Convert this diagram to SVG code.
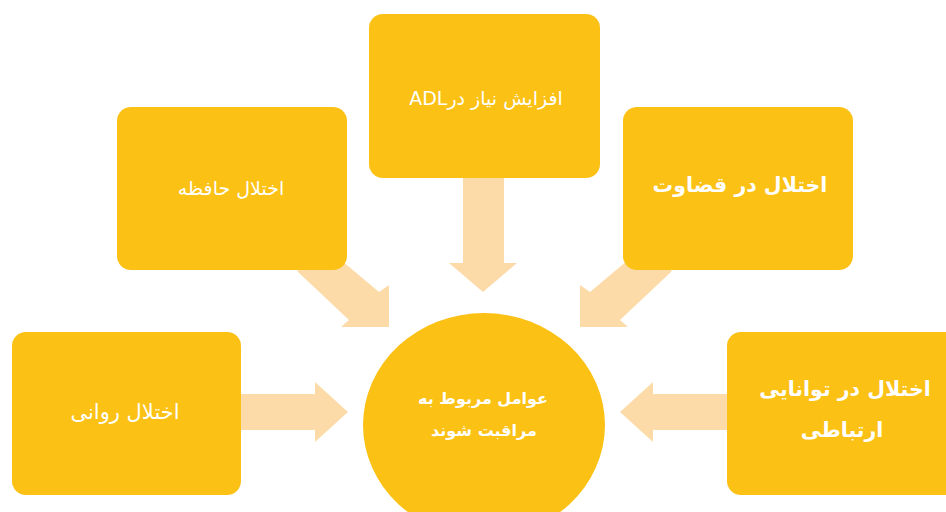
<svg xmlns="http://www.w3.org/2000/svg" width="946" height="512" viewBox="0 0 946 512">
<style>
.box{fill:#FBC115;}
.arr{fill:#FDDBA9;}
.t{fill:#FFFFFF;font-family:"DejaVu Sans","Noto Sans",sans-serif;text-anchor:middle;direction:rtl;}
.n{font-size:19px;font-weight:normal;}
.b{font-size:20.5px;font-weight:bold;}
.c{font-size:16px;font-weight:bold;}
</style>
<rect width="946" height="512" fill="#FFFFFF"/>
<g id="connectors">
<polygon class="arr" points="329,250 379,292 389,285 389,327 341,327 349,320 297,271"/>
<polygon class="arr" points="463,170 504,170 504,263 517,263 483,292 449,263 463,263"/>
<polygon class="arr" points="640,250 590,292 580,285 580,327 628,327 620,320 672,271"/>
<polygon class="arr" points="230,394 315,394 315,382 348,412 315,442 315,430 230,430"/>
<polygon class="arr" points="740,394 653,394 653,382 620,412 653,442 653,430 740,430"/>
</g>
<g id="node-adl">
<rect class="box" x="369" y="14" width="231" height="164" rx="14"/>
<text class="t n" x="486" y="105">افزایش نیاز درADL</text>
</g>
<g id="node-memory">
<rect class="box" x="117" y="107" width="230" height="163" rx="14"/>
<text class="t n" x="231" y="195">اختلال حافظه</text>
</g>
<g id="node-judgment">
<rect class="box" x="623" y="107" width="230" height="163" rx="14"/>
<text class="t b" x="740" y="192">اختلال در قضاوت</text>
</g>
<g id="node-psych">
<rect class="box" x="12" y="332" width="229" height="163" rx="14"/>
<text class="t n" x="125" y="419" style="font-size:21px">اختلال روانی</text>
</g>
<g id="node-communication">
<rect class="box" x="727" y="332" width="240" height="163" rx="14"/>
<text class="t b" x="845" y="396">اختلال در توانایی</text>
<text class="t b" x="842" y="437">ارتباطی</text>
</g>
<g id="node-center">
<ellipse class="box" cx="484" cy="425" rx="121" ry="112"/>
<text class="t c" x="483" y="404">عوامل مربوط به</text>
<text class="t c" x="484" y="436">مراقبت شوند</text>
</g>
</svg>
